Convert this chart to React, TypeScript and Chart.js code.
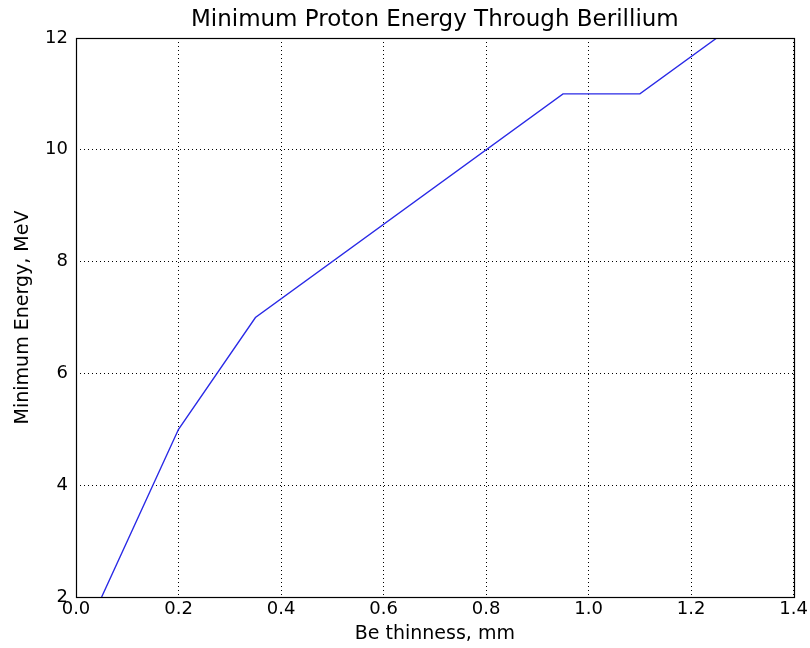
import React, { useEffect, useRef } from "react";
import { Chart, registerables } from "chart.js";

Chart.register(...registerables);

const thickness = [0.05, 0.2, 0.35, 0.95, 1.1, 1.25];
const energy = [2, 5, 7, 11, 11, 12];
const titleText = "Minimum Proton Energy Through Berillium";
const xLabel = "Be thinness, mm";
const yLabel = "Minimum Energy, MeV";

const FONT = "'DejaVu Sans', sans-serif";

const framePlugin = {
  id: "frame",
  afterDraw(chart: any) {
    const { ctx, chartArea } = chart;
    ctx.save();
    ctx.strokeStyle = "#000";
    ctx.lineWidth = 1.2;
    ctx.strokeRect(
      Math.round(chartArea.left) + 0.5,
      Math.round(chartArea.top) + 0.5,
      Math.round(chartArea.right - chartArea.left),
      Math.round(chartArea.bottom - chartArea.top)
    );
    // title centred over the plot area (matplotlib style)
    ctx.fillStyle = "#000";
    ctx.font = `23px ${FONT}`;
    ctx.textAlign = "center";
    ctx.textBaseline = "middle";
    ctx.fillText(titleText, (chartArea.left + chartArea.right) / 2, 20);
    ctx.restore();
  },
};

export default function App() {
  const ref = useRef<HTMLCanvasElement>(null);
  useEffect(() => {
    if (!ref.current) return;
    const chart = new Chart(ref.current, {
      type: "line",
      data: {
        datasets: [
          {
            data: thickness.map((x, i) => ({ x, y: energy[i] })),
            borderColor: "#2a2ae6",
            borderWidth: 1.4,
            pointRadius: 0,
            tension: 0,
            fill: false,
          },
        ],
      },
      options: {
        animation: false,
        responsive: false,
        layout: { padding: { left: 0, right: 15, top: 38, bottom: 0 } },
        plugins: {
          legend: { display: false },
          tooltip: { enabled: false },
          title: { display: false },
        },
        scales: {
          x: {
            type: "linear",
            min: 0,
            max: 1.4,
            ticks: {
              stepSize: 0.2,
              color: "#000",
              font: { family: FONT, size: 18 },
              padding: 2,
              maxRotation: 0,
              callback: (v: any) => Number(v).toFixed(1),
            },
            grid: {
              color: "#000",
              lineWidth: 1,
              drawTicks: false,
              tickLength: 0,
            },
            border: { display: false, dash: [1, 3] },
            title: {
              display: true,
              text: xLabel,
              color: "#000",
              font: { family: FONT, size: 19 },
              padding: { top: 0, bottom: 3 },
            },
            afterFit: (s: any) => {
              s.height = 51;
            },
          },
          y: {
            type: "linear",
            min: 2,
            max: 12,
            ticks: {
              stepSize: 2,
              color: "#000",
              font: { family: FONT, size: 18 },
              padding: 8,
            },
            grid: {
              color: "#000",
              lineWidth: 1,
              drawTicks: false,
              tickLength: 0,
            },
            border: { display: false, dash: [1, 3] },
            title: {
              display: true,
              text: yLabel,
              color: "#000",
              font: { family: FONT, size: 19 },
              padding: { top: 12, bottom: 0 },
            },
            afterFit: (s: any) => {
              s.width = 76;
            },
          },
        },
      },
      plugins: [framePlugin],
    });
    return () => chart.destroy();
  }, []);
  return (
    <div style={{ position: "fixed", left: 0, top: 0, width: 810, height: 648, background: "#fff" }}>
      <canvas ref={ref} width={810} height={648} />
    </div>
  );
}
